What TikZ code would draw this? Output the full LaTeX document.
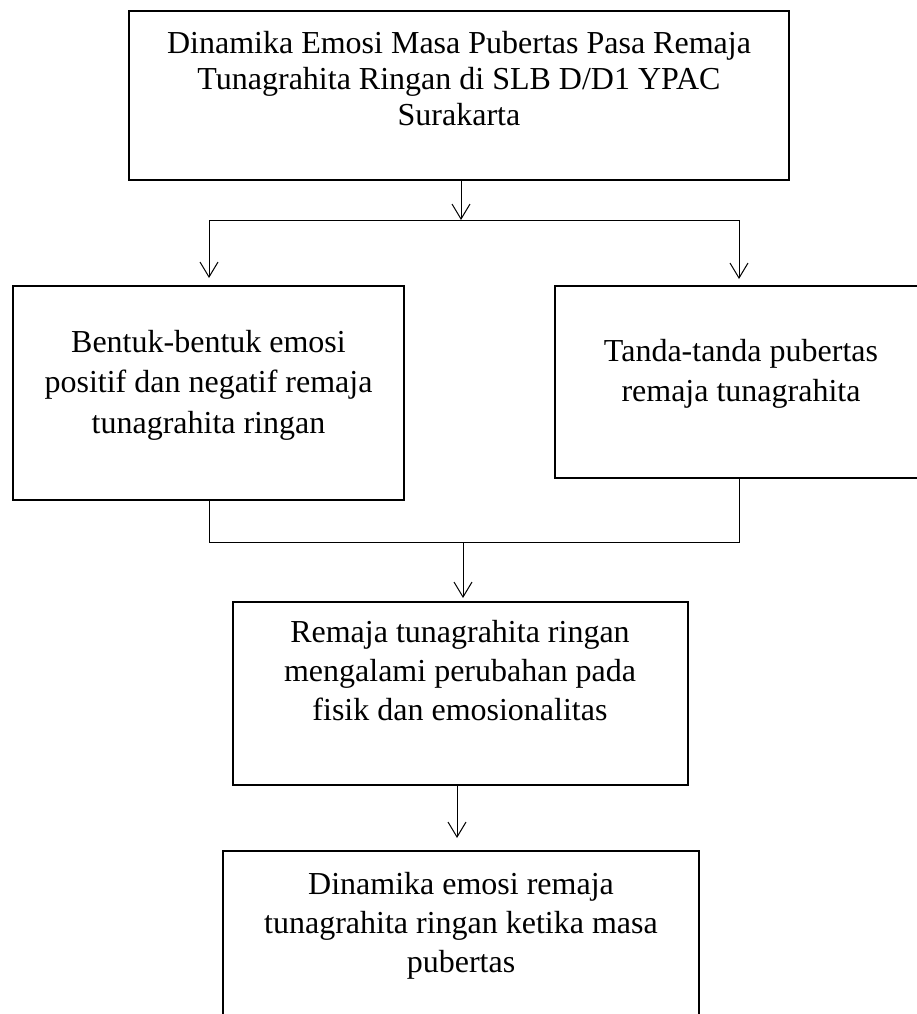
\documentclass[tikz,border=0pt]{standalone}
\usepackage{fontspec}
\setmainfont{Liberation Serif}
\usetikzlibrary{arrows.meta}
\begin{document}
\begin{tikzpicture}[x=1pt,y=-1pt,
  boxstyle/.style={draw, line width=2.2pt, rectangle, inner sep=0pt, outer sep=0pt, anchor=north west},
  txt/.style={align=center, inner sep=0pt, anchor=north, font=\fontsize{32}{40}\selectfont},
  conn/.style={line width=1pt},
  arr/.style={conn, -{Straight Barb[length=15pt,width=18pt,line width=1pt]}}
]
\useasboundingbox (0,0) rectangle (917,1014);
\clip (0,0) rectangle (917,1014);
\fill[white] (0,0) rectangle (917,1014);

% boxes
\node[boxstyle, minimum width=660pt, minimum height=169pt] (top) at (129,11) {};
\node[boxstyle, minimum width=391pt, minimum height=214pt] (left) at (13,286) {};
\node[boxstyle, minimum width=372pt, minimum height=192pt] (right) at (555,286) {};
\node[boxstyle, minimum width=455pt, minimum height=183pt] (mid) at (233,602) {};
\node[boxstyle, minimum width=476pt, minimum height=185pt] (bot) at (223,851) {};

% texts
\node[txt, font=\fontsize{32}{36}\selectfont] (ttop) at (459,31) {Dinamika Emosi Masa Pubertas Pasa Remaja\\Tunagrahita Ringan di SLB D/D1 YPAC\\Surakarta};
\node[txt, font=\fontsize{32}{40.5}\selectfont] (tleft) at (208.5,330) {Bentuk-bentuk emosi\\positif dan negatif remaja\\tunagrahita ringan};
\node[txt] (tright) at (741,339) {Tanda-tanda pubertas\\remaja tunagrahita};
\node[txt, font=\fontsize{32}{39}\selectfont] (tmid) at (460,620) {Remaja tunagrahita ringan\\mengalami perubahan pada\\fisik dan emosionalitas};
\node[txt, font=\fontsize{32}{39}\selectfont] (tbot) at (461,872) {Dinamika emosi remaja\\tunagrahita ringan ketika masa\\pubertas};

% junction coordinates
\coordinate (j1) at (461,220);
\coordinate (l1) at (209,220);
\coordinate (r1) at (739,220);
\coordinate (j2) at (463,542);
\coordinate (l2) at (209,542);
\coordinate (r2) at (739,542);
\coordinate (m1) at (457,785);

% connectors
\draw[arr] (top.south -| j1) -- (j1);
\draw[conn] (l1) -- (r1);
\draw[arr, shorten >=8pt] (l1) -- (l1 |- left.north);
\draw[arr, shorten >=7pt] (r1) -- (r1 |- right.north);
\draw[conn] (l2 |- left.south) -- (l2) -- (r2) -- (r2 |- right.south);
\draw[arr, shorten >=4pt] (j2) -- (j2 |- mid.north);
\draw[arr, shorten >=13pt] (m1) -- (m1 |- bot.north);
\end{tikzpicture}
\end{document}
